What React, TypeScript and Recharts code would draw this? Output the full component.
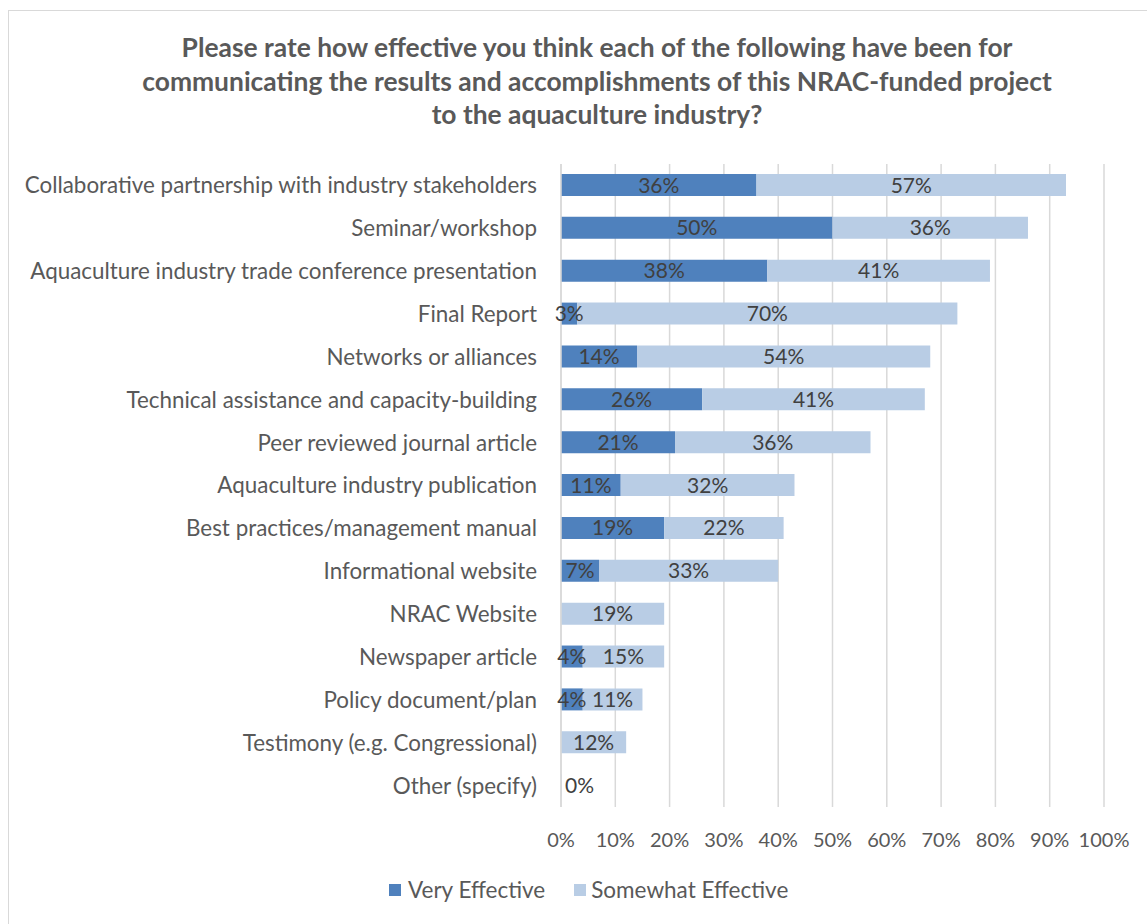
import React from 'react';
import { BarChart, Bar, XAxis, YAxis, CartesianGrid, LabelList } from 'recharts';

const categories = [
  'Collaborative partnership with industry stakeholders',
  'Seminar/workshop',
  'Aquaculture industry trade conference presentation',
  'Final Report',
  'Networks or alliances',
  'Technical assistance and capacity-building',
  'Peer reviewed journal article',
  'Aquaculture industry publication',
  'Best practices/management manual',
  'Informational website',
  'NRAC Website',
  'Newspaper article',
  'Policy document/plan',
  'Testimony (e.g. Congressional)',
  'Other (specify)',
];
const veryEffective: (number | null)[] = [36, 50, 38, 3, 14, 26, 21, 11, 19, 7, null, 4, 4, null, null];
const somewhatEffective: (number | null)[] = [57, 36, 41, 70, 54, 41, 36, 32, 22, 33, 19, 15, 11, 12, 0];
const xTicks = [0, 10, 20, 30, 40, 50, 60, 70, 80, 90, 100];
const seriesNames = ['Very Effective', 'Somewhat Effective'];
const titleLines = [
  'Please rate how effective you think each of the following have been for',
  'communicating the results and accomplishments of this NRAC-funded project',
  'to the aquaculture industry?',
];

const DARK = '#4F81BD';
const LIGHT = '#B9CDE5';
const FONT = 'Lato, "Open Sans", sans-serif';

const data = categories.map((name, i) => ({
  name,
  very: veryEffective[i],
  somewhat: somewhatEffective[i],
}));

const renderLabel = (props: any) => {
  const { x, y, width, height, value } = props;
  if (value === null || value === undefined) return null;
  const zero = value === 0;
  return (
    <text
      x={zero ? x + 4 : x + width / 2}
      y={y + height / 2}
      dy="0.36em"
      textAnchor={zero ? 'start' : 'middle'}
      fill="#404040"
      fontSize={21}
      fontFamily={FONT}
    >
      {value}%
    </text>
  );
};

export default function App() {
  return (
    <div style={{ position: 'absolute', left: 0, top: 0, width: 1147, height: 924, background: '#fff', fontFamily: FONT, overflow: 'hidden' }}>
      <div
        style={{
          position: 'absolute',
          left: 8,
          top: 10,
          width: 1160,
          height: 940,
          border: '1.5px solid #d9d9d9',
          boxSizing: 'border-box',
        }}
      />
      <div
        style={{
          position: 'absolute',
          left: 97,
          width: 1000,
          top: 31,
          textAlign: 'center',
          fontWeight: 700,
          fontSize: 26.4,
          lineHeight: '33.5px',
          color: '#595959',
          fontFamily: FONT,
        }}
      >
        {titleLines.map((l, i) => (
          <div key={i}>{l}</div>
        ))}
      </div>
      <div style={{ position: 'absolute', left: 0, top: 0 }}>
        <BarChart
          width={1147}
          height={924}
          data={data}
          layout="vertical"
          margin={{ top: 164, right: 43, bottom: 87, left: 0 }}
          barSize={22}
        >
          <CartesianGrid horizontal={false} stroke="#d9d9d9" strokeWidth={1.5} />
          <XAxis
            type="number"
            domain={[0, 100]}
            ticks={xTicks}
            tickFormatter={(v: number) => `${v}%`}
            axisLine={false}
            tickLine={false}
            tickMargin={20}
            tick={{ fill: '#595959', fontSize: 20, fontFamily: FONT }}
            interval={0}
          />
          <YAxis
            type="category"
            dataKey="name"
            width={561}
            axisLine={{ stroke: '#d9d9d9', strokeWidth: 1.5 }}
            tickLine={false}
            tickMargin={18}
            tick={{ fill: '#595959', fontSize: 22.4, fontFamily: FONT }}
            interval={0}
          />
          <Bar dataKey="very" stackId="a" fill={DARK} isAnimationActive={false} name={seriesNames[0]}>
            <LabelList dataKey="very" content={renderLabel} />
          </Bar>
          <Bar
            dataKey="somewhat"
            stackId="a"
            fill={LIGHT}
            isAnimationActive={false}
            name={seriesNames[1]}
            minPointSize={(v: any) => (v === 0 ? 0.5 : 0)}
          >
            <LabelList dataKey="somewhat" content={renderLabel} />
          </Bar>
        </BarChart>
      </div>
      <div
        style={{
          position: 'absolute',
          top: 876,
          left: 389,
          display: 'flex',
          alignItems: 'center',
          fontSize: 22.5,
          color: '#595959',
          fontFamily: FONT,
        }}
      >
        <span style={{ width: 12, height: 12, background: DARK, display: 'inline-block', marginRight: 7 }} />
        <span style={{ marginRight: 29 }}>{seriesNames[0]}</span>
        <span style={{ width: 12, height: 12, background: LIGHT, display: 'inline-block', marginRight: 5 }} />
        <span>{seriesNames[1]}</span>
      </div>
    </div>
  );
}
